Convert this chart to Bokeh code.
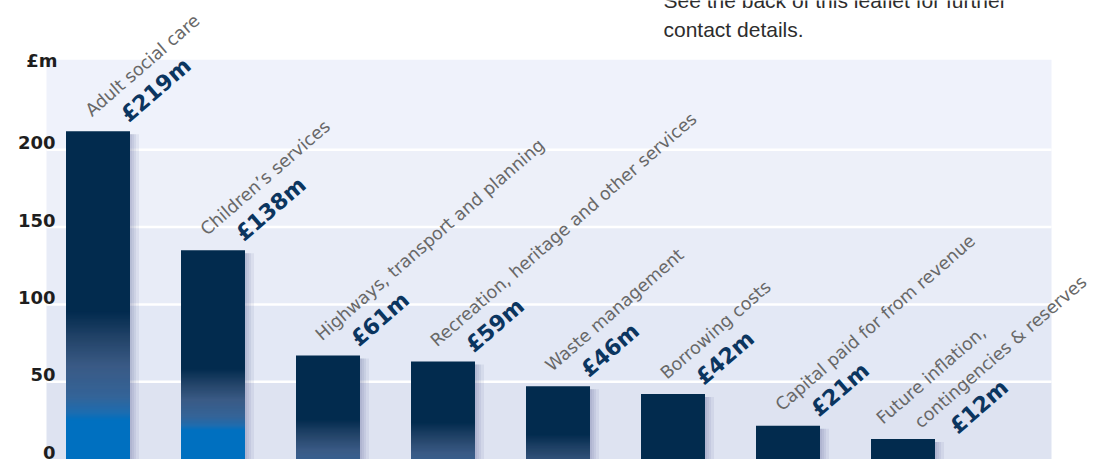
from bokeh.plotting import figure
from bokeh.models import ColumnDataSource, LabelSet, Label, Range1d
from bokeh.embed import file_html
from bokeh.resources import INLINE
from bokeh.core.properties import value

# ---------------- data ----------------
categories = ["Adult social care", "Children\u2019s services", "Highways, transport and planning",
              "Recreation, heritage and other services", "Waste management", "Borrowing costs",
              "Capital paid for from revenue", "Future inflation,\ncontingencies & reserves"]
amount_labels = ["\u00a3219m", "\u00a3138m", "\u00a361m", "\u00a359m", "\u00a346m", "\u00a342m",
                 "\u00a321m", "\u00a312m"]
bar_heights = [212, 135, 67, 63, 47, 42, 21.5, 13]   # heights as drawn against the axis
y_ticks = [0, 50, 100, 150, 200]
y_unit = "\u00a3m"
note_lines = ["See the back of this leaflet for further", "contact details."]

# ---------------- layout ----------------
W, H = 1095, 461
PX_X = 115.0          # pixels per category step
PX_Y = 1.546          # pixels per £m
ZERO_PX = 458.5       # pixel row of the zero line
x_start = -97.5 / PX_X
x_end = x_start + W / PX_X
y_start = (ZERO_PX - H) / PX_Y
y_end = y_start + H / PX_Y
area_left = x_start + 46 / PX_X
area_right = x_start + 1051 / PX_X
area_top = y_end - 59.3 / PX_Y
BW = 64 / PX_X

p = figure(width=W, height=H, output_backend="svg", toolbar_location=None,
           x_axis_type=None, y_axis_type=None,
           x_range=Range1d(x_start, x_end), y_range=Range1d(y_start, y_end),
           min_border=0)
p.outline_line_color = None
p.background_fill_color = "white"
p.border_fill_color = "white"

# background bands
edges = [0] + y_ticks[1:] + [area_top]
band_colors = ["#dee3f1", "#e3e8f5", "#e8ecf7", "#edf0f9", "#eff2fb"]
p.quad(left=area_left, right=area_right, bottom=edges[:-1], top=edges[1:],
       fill_color=band_colors, line_color=None)
p.segment(x0=area_left, x1=area_right, y0=y_ticks[1:], y1=y_ticks[1:],
          line_color="white", line_width=2.5)

xs = list(range(len(categories)))

# shadows
for w in [2, 4, 6, 9]:
    p.quad(left=xs, right=[x + BW / 2 + w / PX_X for x in xs],
           bottom=0, top=[h - 3 / PX_Y for h in bar_heights],
           fill_color="#50558f", fill_alpha=0.09, line_color=None)

# gradient bars
stops = [(0.0, (2, 43, 78)), (0.25, (35, 68, 105)), (0.5, (58, 90, 133)),
         (0.78, (52, 100, 152)), (0.92, (30, 108, 175)), (1.0, (0, 112, 192))]


def col(t):
    t = max(0.0, min(1.0, t))
    for (t0, c0), (t1, c1) in zip(stops[:-1], stops[1:]):
        if t <= t1:
            f = (t - t0) / (t1 - t0) if t1 > t0 else 0
            c = [round(a + (b - a) * f) for a, b in zip(c0, c1)]
            return "#%02x%02x%02x" % tuple(c)
    return "#%02x%02x%02x" % stops[-1][1]


L, R, Bo, T, C = [], [], [], [], []
step = 0.7
ov = 0.5
for x, h in zip(xs, bar_heights):
    l, r = x - BW / 2, x + BW / 2
    if h < 45:
        L.append(l); R.append(r); Bo.append(0); T.append(h); C.append(col(0))
        continue
    ds = 0.482 * h - 7.1
    span = 40 + 0.4 * max(0, h - 135)
    be = ds - span
    L.append(l); R.append(r); Bo.append(ds); T.append(h); C.append(col(0))
    v = ds
    while v > 0 and v > be:
        v0 = max(0, v - step, be)
        L.append(l); R.append(r); Bo.append(v0); T.append(v + ov)
        C.append(col((ds - (v + v0) / 2) / span))
        v = v0
    if be > 0:
        L.append(l); R.append(r); Bo.append(0); T.append(be + ov); C.append(col(1))

p.quad(left=L, right=R, bottom=Bo, top=T, fill_color=C, line_color=None)

# rotated labels
ANG = 41
cx, cy, cxo, cyo, ct = [], [], [], [], []
vx, vy, vxo, vyo, vt = [], [], [], [], []
for x, h, cat, amt in zip(xs, bar_heights, categories, amount_labels):
    lines = cat.split("\n")
    n = len(lines)
    sx = 26 - 14 * (n - 1)
    for k, ln in enumerate(lines):
        cx.append(x - BW / 2); cy.append(h); cxo.append(sx + 38 * k); cyo.append(14 - 4 * k); ct.append(ln)
    vx.append(x - BW / 2); vy.append(h); vxo.append(sx + 38 * n - 1); vyo.append(12 - 4 * n); vt.append(amt)

cat_src = ColumnDataSource(dict(x=cx, y=cy, xo=cxo, yo=cyo, t=ct))
val_src = ColumnDataSource(dict(x=vx, y=vy, xo=vxo, yo=vyo, t=vt))
p.add_layout(LabelSet(x="x", y="y", x_offset="xo", y_offset="yo", text="t", source=cat_src,
                      angle=ANG, angle_units="deg", text_align="left", text_baseline="alphabetic",
                      text_font=value("DejaVu Sans"), text_font_size="17.5px", text_color="#686868"))
p.add_layout(LabelSet(x="x", y="y", x_offset="xo", y_offset="yo", text="t", source=val_src,
                      angle=ANG, angle_units="deg", text_align="left", text_baseline="alphabetic",
                      text_font=value("DejaVu Sans"), text_font_size="22px", text_font_style="bold",
                      text_color="#0b355f"))

# y tick labels
tick_src = ColumnDataSource(dict(x=[area_left] * len(y_ticks), y=y_ticks, t=[str(t) for t in y_ticks]))
p.add_layout(LabelSet(x="x", y="y", text="t", source=tick_src, x_offset=9, y_offset=0.5,
                      text_align="right", text_baseline="alphabetic",
                      text_font=value("DejaVu Sans"), text_font_size="18px", text_font_style="bold",
                      text_color="#1e1e1e"))
p.add_layout(Label(x=area_left, y=area_top - 1 / PX_Y, text=y_unit, x_offset=11,
                   text_align="right", text_baseline="alphabetic",
                   text_font="DejaVu Sans", text_font_size="18px", text_font_style="bold",
                   text_color="#1e1e1e"))

# note text at top right
nx = x_start + 663 / PX_X
for i, ln in enumerate(note_lines):
    p.add_layout(Label(x=nx, y=y_end - (0 + 29 * i) / PX_Y, text=ln,
                       text_align="left", text_baseline="alphabetic",
                       text_font="Liberation Sans", text_font_size="21px", text_color="#2d2d2d"))

open("out.html", "w").write(file_html(p, INLINE))
